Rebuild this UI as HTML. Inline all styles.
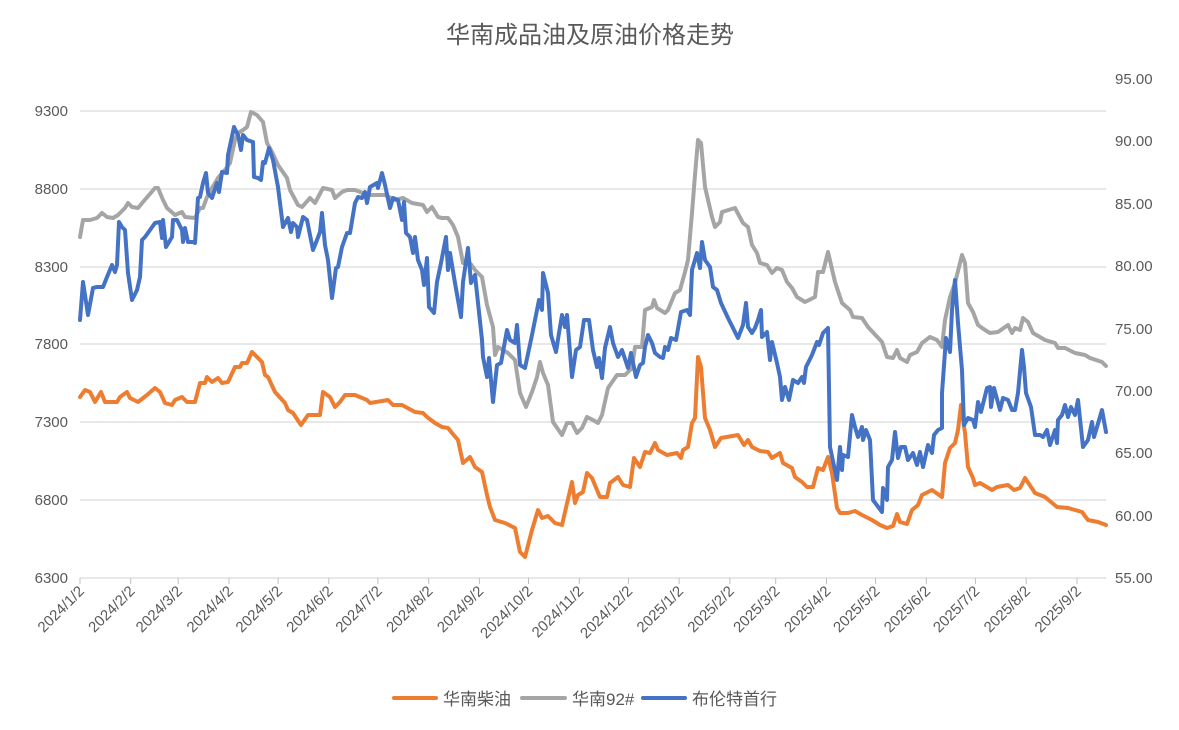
<!DOCTYPE html>
<html><head><meta charset="utf-8"><style>
html,body{margin:0;padding:0;background:#fff;}
svg{display:block;font-family:"Liberation Sans","Noto Sans CJK SC",sans-serif;}
</style></head><body>
<svg width="1179" height="730" viewBox="0 0 1179 730" xmlns="http://www.w3.org/2000/svg">
<rect x="0" y="0" width="1179" height="730" fill="#fff"/>
<text x="590" y="43" font-size="24" fill="#595959" text-anchor="middle">华南成品油及原油价格走势</text>
<g stroke="#d9d9d9" stroke-width="1.3">
<line x1="80" y1="111" x2="1106" y2="111"/>
<line x1="80" y1="189" x2="1106" y2="189"/>
<line x1="80" y1="267" x2="1106" y2="267"/>
<line x1="80" y1="344" x2="1106" y2="344"/>
<line x1="80" y1="422" x2="1106" y2="422"/>
<line x1="80" y1="500" x2="1106" y2="500"/>
<line x1="80" y1="578" x2="1106" y2="578"/>
</g>
<g stroke="#bfbfbf" stroke-width="1">
<line x1="80" y1="578" x2="80" y2="584"/><line x1="130.7" y1="578" x2="130.7" y2="584"/><line x1="178.2" y1="578" x2="178.2" y2="584"/><line x1="229" y1="578" x2="229" y2="584"/><line x1="278.1" y1="578" x2="278.1" y2="584"/><line x1="328.8" y1="578" x2="328.8" y2="584"/><line x1="377.9" y1="578" x2="377.9" y2="584"/><line x1="428.7" y1="578" x2="428.7" y2="584"/><line x1="479.4" y1="578" x2="479.4" y2="584"/><line x1="528.5" y1="578" x2="528.5" y2="584"/><line x1="579.3" y1="578" x2="579.3" y2="584"/><line x1="628.4" y1="578" x2="628.4" y2="584"/><line x1="679.1" y1="578" x2="679.1" y2="584"/><line x1="729.9" y1="578" x2="729.9" y2="584"/><line x1="775.7" y1="578" x2="775.7" y2="584"/><line x1="826.5" y1="578" x2="826.5" y2="584"/><line x1="875.6" y1="578" x2="875.6" y2="584"/><line x1="926.3" y1="578" x2="926.3" y2="584"/><line x1="975.4" y1="578" x2="975.4" y2="584"/><line x1="1026.2" y1="578" x2="1026.2" y2="584"/><line x1="1077" y1="578" x2="1077" y2="584"/>
</g>
<g font-size="15" fill="#595959" text-anchor="end">
<text x="68" y="116">9300</text><text x="68" y="194">8800</text><text x="68" y="272">8300</text><text x="68" y="349">7800</text><text x="68" y="427">7300</text><text x="68" y="505">6800</text><text x="68" y="583">6300</text>
</g>
<g font-size="15" fill="#595959" text-anchor="start">
<text x="1115" y="84">95.00</text><text x="1115" y="146">90.00</text><text x="1115" y="209">85.00</text><text x="1115" y="271">80.00</text><text x="1115" y="334">75.00</text><text x="1115" y="396">70.00</text><text x="1115" y="458">65.00</text><text x="1115" y="521">60.00</text><text x="1115" y="583">55.00</text>
</g>
<g font-size="15" fill="#595959" text-anchor="end">
<text transform="translate(85,592) rotate(-45)">2024/1/2</text>
<text transform="translate(135.7,592) rotate(-45)">2024/2/2</text>
<text transform="translate(183.2,592) rotate(-45)">2024/3/2</text>
<text transform="translate(234,592) rotate(-45)">2024/4/2</text>
<text transform="translate(283.1,592) rotate(-45)">2024/5/2</text>
<text transform="translate(333.8,592) rotate(-45)">2024/6/2</text>
<text transform="translate(382.9,592) rotate(-45)">2024/7/2</text>
<text transform="translate(433.7,592) rotate(-45)">2024/8/2</text>
<text transform="translate(484.4,592) rotate(-45)">2024/9/2</text>
<text transform="translate(533.5,592) rotate(-45)">2024/10/2</text>
<text transform="translate(584.3,592) rotate(-45)">2024/11/2</text>
<text transform="translate(633.4,592) rotate(-45)">2024/12/2</text>
<text transform="translate(684.1,592) rotate(-45)">2025/1/2</text>
<text transform="translate(734.9,592) rotate(-45)">2025/2/2</text>
<text transform="translate(780.7,592) rotate(-45)">2025/3/2</text>
<text transform="translate(831.5,592) rotate(-45)">2025/4/2</text>
<text transform="translate(880.6,592) rotate(-45)">2025/5/2</text>
<text transform="translate(931.3,592) rotate(-45)">2025/6/2</text>
<text transform="translate(980.4,592) rotate(-45)">2025/7/2</text>
<text transform="translate(1031.2,592) rotate(-45)">2025/8/2</text>
<text transform="translate(1082,592) rotate(-45)">2025/9/2</text>
</g>
<g fill="none" stroke-width="4" stroke-linejoin="round" stroke-linecap="round">
<polyline stroke="#ed7d31" points="80,397 85,390 90,392 95,402 101,392 105,402 117,402 120,397 127,392 130,398 138,402 147,395 155,388 160,392 165,403 172,405 175,400 182,397 187,402 195,402 200,383 205,383 207,377 212,382 218,378 222,383 228,382 235,367 240,367 242,363 247,363 252,352 257,357 262,362 265,375 268,377 275,392 285,403 288,410 293,413 301,425 308,415 320,415 323,392 330,397 335,407 340,402 345,395 355,395 367,400 370,403 388,400 393,405 402,405 415,412 423,413 427,417 435,423 442,427 448,428 452,433 458,440 463,463 470,457 475,467 482,472 487,495 490,507 495,520 505,523 515,528 520,552 525,557 532,530 538,510 542,518 548,516 555,523 562,525 572,482 575,503 578,495 583,492 587,473 592,478 597,490 600,497 607,497 610,483 618,477 623,485 630,487 634,458 640,467 645,452 650,453 655,443 658,450 667,455 677,453 681,458 683,450 688,447 692,423 695,418 698,357 701,367 705,418 710,430 715,447 721,438 738,435 744,445 748,440 752,447 760,451 768,452 772,458 780,453 783,463 792,468 795,477 802,482 807,487 813,487 818,468 823,470 828,457 832,473 837,508 840,513 848,513 855,511 862,515 872,520 880,525 887,528 893,526 897,514 900,522 907,524 912,510 918,505 922,495 932,490 942,497 945,463 950,448 955,443 958,430 961,405 965,433 968,467 973,478 975,485 980,483 992,490 997,487 1008,485 1014,490 1020,488 1025,478 1035,493 1045,497 1057,507 1068,508 1082,512 1088,520 1098,522 1106,525"/>
<polyline stroke="#a5a5a5" points="80,237 83,220 90,220 97,218 102,213 107,217 113,218 118,215 125,208 128,203 132,207 138,208 143,202 155,188 158,188 163,200 167,208 175,215 182,212 185,217 195,218 200,208 203,208 207,197 212,188 218,178 225,170 230,163 235,140 238,133 243,130 247,127 251,112 257,115 263,122 267,143 272,152 278,165 287,178 290,190 298,205 302,207 310,198 315,203 323,188 332,190 335,198 342,192 347,190 355,190 368,195 385,195 395,200 403,198 412,203 423,205 427,212 432,207 438,217 442,218 448,218 453,225 458,237 463,263 470,263 475,270 482,277 487,305 493,327 495,355 498,347 508,353 515,360 520,393 526,407 532,392 537,377 540,362 543,373 548,385 553,422 562,435 567,423 572,423 577,433 582,428 587,417 593,420 598,423 602,415 608,388 617,375 625,375 632,368 635,347 642,347 645,310 652,307 654,300 657,308 665,313 668,310 675,293 680,290 685,272 688,260 692,213 695,175 698,140 701,143 705,187 712,217 715,227 720,222 722,212 735,208 743,223 748,227 752,245 757,253 760,263 767,265 772,273 777,268 782,270 787,282 792,288 797,297 805,302 815,297 818,272 823,272 828,252 835,282 842,303 850,310 853,317 862,318 868,327 882,342 887,357 893,358 897,350 900,358 907,362 910,355 917,352 922,343 930,337 937,340 942,347 945,320 950,297 955,283 962,255 965,263 968,303 973,312 978,325 985,330 990,333 998,332 1008,325 1012,333 1015,328 1020,330 1023,318 1028,322 1033,333 1045,340 1055,343 1058,348 1065,348 1075,353 1085,355 1090,358 1102,362 1106,366"/>
<polyline stroke="#4472c4" points="80,320 83,282 88,315 93,288 97,287 103,287 107,277 112,265 115,272 117,265 119,222 122,227 125,230 128,273 132,300 137,290 140,277 142,240 145,237 155,223 160,222 162,238 163,220 166,247 172,237 173,220 177,220 182,230 183,242 185,228 188,242 193,242 195,243 198,198 200,197 203,183 206,173 208,193 212,198 217,183 219,192 222,172 227,173 228,155 234,127 238,135 241,150 243,135 247,140 253,142 254,177 258,178 261,180 263,162 265,163 269,148 273,160 278,187 283,227 288,218 291,232 293,223 297,227 298,237 303,217 307,220 310,235 313,250 317,240 320,232 322,213 325,245 328,260 332,298 336,268 338,267 342,247 347,233 350,233 355,203 358,197 362,198 365,192 367,203 370,187 377,183 378,188 382,173 385,185 390,208 393,198 398,200 402,220 404,202 406,233 410,237 413,253 415,237 418,260 422,270 424,285 427,258 429,307 434,313 437,282 441,263 446,237 448,270 450,253 455,283 461,317 463,282 468,248 471,283 475,275 482,340 483,357 487,377 489,358 493,402 497,365 501,363 507,330 510,340 515,343 517,325 520,365 525,368 532,335 539,300 542,310 543,273 548,293 551,335 556,352 559,333 562,315 565,327 567,315 572,377 576,350 580,347 584,320 589,320 593,350 597,367 599,358 602,378 605,348 610,327 613,343 618,357 622,350 628,368 631,353 636,377 640,365 643,363 645,347 648,335 652,343 655,353 660,357 663,358 665,347 668,350 671,338 676,340 681,312 687,310 690,315 692,270 697,253 700,268 702,242 705,260 710,267 713,287 717,290 721,303 728,318 738,338 743,325 746,303 748,327 752,333 755,328 758,320 761,310 762,337 767,332 770,360 772,342 777,363 780,377 782,400 785,387 789,400 793,380 798,383 802,377 804,383 806,367 812,355 817,342 819,345 823,333 828,328 830,447 837,480 840,447 842,470 843,455 848,457 852,415 855,427 858,437 862,427 863,440 866,430 870,440 873,500 882,512 883,488 887,500 888,467 892,460 895,432 898,458 901,447 905,447 908,460 913,453 917,465 920,452 923,467 928,445 932,453 934,435 938,430 942,428 942,393 946,338 950,352 952,310 955,280 958,323 962,370 964,425 968,418 973,420 975,427 978,402 981,412 987,388 990,387 991,407 994,388 1000,410 1003,398 1008,400 1012,410 1015,410 1018,393 1022,350 1024,367 1026,393 1031,407 1035,435 1040,435 1043,437 1047,430 1050,445 1055,430 1057,443 1058,420 1062,415 1065,405 1068,417 1071,407 1075,415 1078,400 1083,447 1088,440 1092,422 1094,437 1097,427 1102,410 1106,432"/>
</g>
<g stroke-width="4" stroke-linecap="round">
<line x1="394" y1="698" x2="436" y2="698" stroke="#ed7d31"/>
<line x1="522" y1="698" x2="565" y2="698" stroke="#a5a5a5"/>
<line x1="643" y1="698" x2="685" y2="698" stroke="#4472c4"/>
</g>
<g font-size="17" fill="#595959">
<text x="443" y="705">华南柴油</text>
<text x="572" y="705">华南92#</text>
<text x="692" y="705">布伦特首行</text>
</g>
</svg>
</body></html>
